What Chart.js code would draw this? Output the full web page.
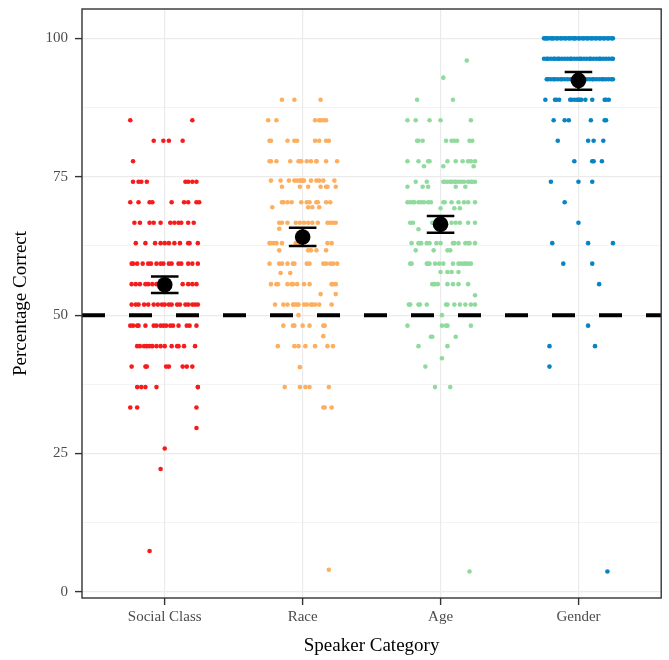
<!DOCTYPE html>
<html lang="en">
<head>
    <meta charset="UTF-8">
    <title>Percentage Correct by Speaker Category</title>
    <script src="https://cdn.jsdelivr.net/npm/chart.js"></script>
    <style>
        body { margin: 0; background: #ffffff; }
        canvas { display: block; }
    </style>
</head>
<body>
    <canvas id="chart" width="669" height="660"></canvas>
    <script>
        const categories = ['Social Class', 'Race', 'Age', 'Gender'];
        const pointColors = ['#F61C1C', '#FDAE5E', '#90DA9E', '#0784C3'];

        // each row: [percentage correct, horizontal jitter offsets in hundredths of a category]
        const socialClassRows = [
            [85.2, [-25, 20]],
            [81.5, [-8, -1, 3, 13]],
            [77.8, [-23]],
            [74.1, [-23, -19, -17, -13, 15, 17, 20, 23]],
            [70.4, [-25, -19, -11, -9, 5, 14, 17, 23, 25]],
            [66.7, [-22, -18, -11, -8, -3, 4, 7, 10, 12, 17, 21]],
            [63.0, [-21, -14, -7, -3, 0, 3, 7, 11, 17, 18, 24]],
            [59.3, [-24, -23, -20, -16, -12, -10, -6, -3, -1, 3, 5, 10, 12, 17, 20, 24]],
            [55.6, [-24, -21, -18, -14, -12, -9, -6, -2, 1, 13, 17, 20, 23]],
            [51.9, [-24, -21, -19, -15, -12, -8, -5, -2, 0, 3, 5, 9, 11, 15, 17, 20, 22, 24]],
            [48.1, [-25, -23, -20, -19, -14, -8, -6, -3, -1, 1, 4, 6, 10, 16, 18, 23]],
            [44.4, [-20, -18, -15, -13, -11, -9, -6, -3, 0, 5, 9, 10, 14, 22]],
            [40.7, [-24, -14, -13, 1, 3, 13, 16, 20]],
            [37.0, [-20, -17, -14, -6, 24, 24]],
            [33.3, [-25, -20, 23]],
            [29.6, [23]],
            [25.9, [0]],
            [22.2, [-3]],
            [7.4, [-11]]
        ];
        const raceRows = [
            [88.9, [-15, -6, 13]],
            [85.2, [-25, -19, 9, 12, 13, 15, 17]],
            [81.5, [-24, -23, -11, -6, -4, 9, 12, 17, 19]],
            [77.8, [-24, -23, -19, -9, -3, -2, -1, 3, 6, 10, 10, 17, 25]],
            [74.3, [-23, -16, -10, -6, -4, -2, -1, 0, 1, 6, 10, 12, 15, 23]],
            [73.2, [-15, -2, 4, 13, 17, 18, 24]],
            [70.4, [-15, -14, -11, -8, -1, 3, 5, 10, 11, 17, 20]],
            [69.5, [-22, 4, 7, 12]],
            [66.7, [-17, -15, -11, -5, -2, 1, 4, 7, 11, 18, 20, 22, 24]],
            [65.6, [-17]],
            [63.0, [-24, -23, -21, -19, -15, -5, -2, 18, 21]],
            [61.7, [-17, 4, 6, 10, 17]],
            [59.3, [-24, -17, -15, -11, -7, -6, 3, 5, 15, 17, 20, 22, 25]],
            [57.6, [-16, -9]],
            [55.6, [-23, -19, -18, -11, -8, -7, -4, 1, 5, 21, 22, 24]],
            [53.8, [13, 24]],
            [51.9, [-20, -14, -11, -7, -6, -4, -3, 1, 3, 6, 7, 9, 12, 21]],
            [50.0, [-3]],
            [48.1, [-14, -7, -6, 0, 5, 15, 16]],
            [46.2, [15]],
            [44.4, [-18, -6, -3, 2, 9, 18, 22]],
            [40.6, [-2]],
            [37.0, [-13, -2, 2, 5, 19]],
            [33.3, [15, 16, 21]],
            [4.0, [19]]
        ];
        const ageRows = [
            [96.0, [19]],
            [92.9, [2]],
            [88.9, [-17, 9]],
            [85.2, [-24, -18, -8, 0, 22]],
            [81.5, [-17, -16, -13, 4, 8, 10, 12, 21, 23]],
            [77.8, [-24, -16, -9, -8, 5, 11, 16, 20, 22, 25]],
            [76.9, [-12, 2, 24]],
            [74.1, [-18, -10, 2, 3, 5, 7, 8, 10, 11, 13, 15, 17, 20, 22, 23, 25]],
            [73.2, [-24, -13, -9, 11, 18]],
            [70.4, [-24, -22, -20, -19, -16, -14, -12, -9, -7, 2, 3, 8, 13, 17, 20, 25]],
            [69.3, [0, 10, 14]],
            [66.7, [-22, -20, -6, 8, 11, 14, 20, 25]],
            [65.5, [-16]],
            [63.0, [-21, -16, -15, -14, -10, -8, -3, 0, 9, 10, 13, 18, 20, 21, 25]],
            [61.7, [-18, -5, 5, 7]],
            [59.3, [-22, -21, -10, -9, -8, -4, -1, 2, 9, 13, 15, 17, 18, 20, 22]],
            [57.8, [0, 5, 8, 13]],
            [55.6, [-6, -5, -4, -2, 5, 9, 13, 20]],
            [53.6, [25]],
            [51.9, [-23, -22, -16, -15, -10, 4, 5, 10, 14, 18, 22, 25]],
            [50.0, [1]],
            [48.1, [-24, 1, 4, 5, 22]],
            [46.1, [-7, -6, 11]],
            [44.4, [-16, 5]],
            [42.2, [1]],
            [40.7, [-11]],
            [37.0, [-4, 7]],
            [3.7, [21]]
        ];
        const genderRows = [
            [100.0, [-25, -24, -23, -22, -20, -19, -18, -16, -15, -13, -12, -10, -9, -7, -6, -4, -3, -2, 0, 1, 3, 4, 6, 7, 9, 10, 12, 13, 15, 16, 18, 19, 21, 22, 24, 25]],
            [96.3, [-25, -23, -22, -20, -18, -17, -15, -14, -12, -10, -8, -6, -5, -3, -1, 1, 2, 4, 6, 8, 9, 11, 13, 15, 16, 18, 20, 22, 24, 25]],
            [92.6, [-23, -22, -20, -18, -17, -15, -13, -12, -10, -8, -6, -4, -2, 0, 2, 4, 6, 8, 10, 11, 13, 15, 17, 18, 20, 22, 24, 25]],
            [88.9, [-24, -17, -16, -14, -6, -5, -3, -1, 0, 1, 2, 5, 10, 19, 20, 22]],
            [85.2, [-18, -10, -7, 9, 19, 20]],
            [81.5, [-15, 7, 11, 18]],
            [77.8, [-3, 10, 11, 17]],
            [74.1, [-20, 0, 10]],
            [70.4, [-10]],
            [66.7, [0]],
            [63.0, [-19, 7, 25]],
            [59.3, [-11, 10]],
            [55.6, [15]],
            [48.1, [7]],
            [44.4, [-21, 12]],
            [40.7, [-21]],
            [3.7, [21]]
        ];

        const meanValues = [55.5, 64.1, 66.4, 92.4];
        const ciLow = [54.0, 62.5, 64.9, 90.7];
        const ciHigh = [57.0, 65.8, 67.9, 93.9];
        const yTicks = [0, 25, 50, 75, 100];
        const yMinorTicks = [12.5, 37.5, 62.5, 87.5];
        const chanceLevel = 50;

        function rowsToPoints(rows, catIndex) {
            const pts = [];
            rows.forEach(([value, offsets]) => {
                offsets.forEach(o => pts.push({ x: catIndex + 1 + o / 100, y: value }));
            });
            return pts;
        }

        const allRows = [socialClassRows, raceRows, ageRows, genderRows];
        const pointSets = allRows.map((rows, i) => ({
            type: 'scatter',
            data: rowsToPoints(rows, i),
            backgroundColor: pointColors[i],
            borderWidth: 0,
            pointRadius: 2.3,
            order: 3
        }));

        const serif = "'Liberation Serif', 'Times New Roman', serif";

        const frameAndErrorBars = {
            id: 'frameAndErrorBars',
            afterDatasetsDraw(chart) {
                const { ctx, scales: { x, y } } = chart;
                ctx.save();
                ctx.strokeStyle = '#000000';
                ctx.lineWidth = 2.5;
                meanValues.forEach((m, i) => {
                    const cx = x.getPixelForValue(i + 1);
                    const half = x.getPixelForValue(i + 1.1) - cx;
                    const top = y.getPixelForValue(ciHigh[i]);
                    const bot = y.getPixelForValue(ciLow[i]);
                    ctx.beginPath();
                    ctx.moveTo(cx - half, top); ctx.lineTo(cx + half, top);
                    ctx.moveTo(cx - half, bot); ctx.lineTo(cx + half, bot);
                    ctx.moveTo(cx, top); ctx.lineTo(cx, bot);
                    ctx.stroke();
                });
                ctx.restore();
            },
            afterDraw(chart) {
                const { ctx, chartArea: a } = chart;
                ctx.save();
                ctx.strokeStyle = '#333333';
                ctx.lineWidth = 1.4;
                ctx.strokeRect(a.left, a.top, a.right - a.left, a.bottom - a.top);
                ctx.restore();
            }
        };

        new Chart(document.getElementById('chart'), {
            type: 'scatter',
            data: {
                datasets: [
                    {
                        type: 'scatter',
                        data: meanValues.map((m, i) => ({ x: i + 1, y: m })),
                        backgroundColor: '#000000',
                        borderWidth: 0,
                        pointRadius: 7.8,
                        order: 0
                    },
                    {
                        type: 'line',
                        data: [{ x: 0.4, y: chanceLevel }, { x: 4.6, y: chanceLevel }],
                        borderColor: '#000000',
                        borderWidth: 4,
                        borderDash: [23, 24],
                        pointRadius: 0,
                        showLine: true,
                        order: 1
                    },
                    ...pointSets
                ]
            },
            options: {
                responsive: false,
                animation: false,
                layout: { padding: { top: 9, right: 4, left: 0, bottom: 0 } },
                plugins: {
                    legend: { display: false },
                    tooltip: { enabled: false }
                },
                scales: {
                    x: {
                        type: 'linear',
                        min: 0.4,
                        max: 4.6,
                        afterBuildTicks: s => { s.ticks = [1, 2, 3, 4].map(v => ({ value: v })); },
                        afterFit: s => {
                            s.height = 62;
                            s.paddingLeft = 0; s.paddingRight = 0;
                        },
                        ticks: {
                            callback: v => categories[v - 1] || '',
                            color: '#4D4D4D',
                            font: { family: serif, size: 15 },
                            padding: 3,
                            maxRotation: 0
                        },
                        grid: {
                            color: '#EBEBEB',
                            lineWidth: 1.2,
                            tickColor: '#333333',
                            tickLength: 7,
                            tickWidth: 1.4
                        },
                        border: { display: false },
                        title: {
                            display: true,
                            text: 'Speaker Category',
                            color: '#000000',
                            font: { family: serif, size: 19 },
                            padding: { top: 0, bottom: 3 }
                        }
                    },
                    y: {
                        min: -1.1,
                        max: 105.3,
                        afterBuildTicks: s => {
                            s.ticks = yTicks.concat(yMinorTicks).sort((a, b) => a - b).map(v => ({ value: v }));
                        },
                        afterFit: s => {
                            s.width = 82;
                            s.paddingTop = 0; s.paddingBottom = 0;
                        },
                        ticks: {
                            callback: v => yTicks.includes(v) ? String(v) : '',
                            color: '#4D4D4D',
                            font: { family: serif, size: 15 },
                            padding: 7
                        },
                        grid: {
                            color: '#EBEBEB',
                            lineWidth: c => yTicks.includes(c.tick.value) ? 1.2 : 0.6,
                            tickColor: c => yTicks.includes(c.tick.value) ? '#333333' : 'rgba(0,0,0,0)',
                            tickLength: 7,
                            tickWidth: 1.4
                        },
                        border: { display: false },
                        title: {
                            display: true,
                            text: 'Percentage Correct',
                            color: '#000000',
                            font: { family: serif, size: 19 },
                            padding: { top: 10, bottom: 0 }
                        }
                    }
                }
            },
            plugins: [frameAndErrorBars]
        });
    </script>
</body>
</html>
